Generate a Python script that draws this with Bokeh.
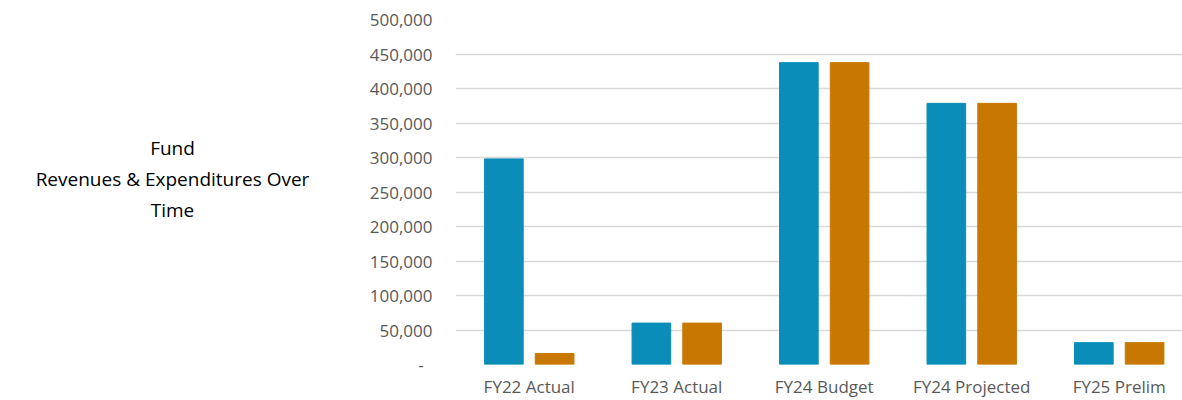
from bokeh.plotting import figure
from bokeh.models import ColumnDataSource, Range1d, FixedTicker, NumeralTickFormatter
from bokeh.layouts import row
from bokeh.transform import dodge
from bokeh.core.properties import value
from bokeh.embed import file_html
from bokeh.resources import INLINE

categories = ["FY22 Actual", "FY23 Actual", "FY24 Budget", "FY24 Projected", "FY25 Prelim"]
revenues = [298000, 60000, 437500, 378500, 31700]
expenditures = [16000, 60000, 437500, 378500, 31700]
y_ticks = [0, 50000, 100000, 150000, 200000, 250000, 300000, 350000, 400000, 450000, 500000]
title_text = "Fund\nRevenues & Expenditures Over\nTime"

FONT = "Open Sans"
LABEL_COLOR = "#595959"
BLUE = "#0B8DB9"
ORANGE = "#C87801"

LEFT_W = 344
TOTAL_W = 1182
H = 400

# ---- left panel holding the chart title ----
t = figure(width=LEFT_W, height=H, output_backend="svg", toolbar_location=None,
           x_range=Range1d(0, LEFT_W), y_range=Range1d(0, H),
           min_border=0, x_axis_type=None, y_axis_type=None)
t.outline_line_color = None
t.xgrid.visible = False
t.ygrid.visible = False
t.text(x=[172], y=[215], text=[title_text], text_align="center", text_baseline="middle",
       text_font=value(FONT), text_font_size="19px", text_color="#000000",
       text_line_height=1.2)

# ---- chart ----
src = ColumnDataSource(dict(idx=list(range(len(categories))), cat=categories,
                            rev=revenues, exp=expenditures))

p = figure(width=TOTAL_W - LEFT_W, height=H, output_backend="svg", toolbar_location=None,
           x_range=Range1d(-0.5, 4.429), y_range=Range1d(0, 500000),
           min_border_left=455 - LEFT_W, min_border_right=0, min_border_top=19,
           min_border_bottom=34)
p.outline_line_color = None

bw = 0.262
p.vbar(x=dodge("idx", -0.172, range=p.x_range), top="rev", width=bw, source=src,
       fill_color=BLUE, line_color=BLUE)
p.vbar(x=dodge("idx", 0.172, range=p.x_range), top="exp", width=bw, source=src,
       fill_color=ORANGE, line_color=ORANGE)

p.xaxis.ticker = FixedTicker(ticks=list(range(len(categories))))
p.xaxis.major_label_overrides = {i: c for i, c in enumerate(categories)}
p.yaxis.ticker = FixedTicker(ticks=y_ticks)
p.yaxis.formatter = NumeralTickFormatter(format="0,0")
p.yaxis.major_label_overrides = {0: "-\u00a0\u00a0"}
for ax in (p.xaxis, p.yaxis):
    ax.axis_line_color = None
    ax.major_tick_line_color = None
    ax.minor_tick_line_color = None
    ax.major_tick_out = 0
    ax.major_tick_in = 0
    ax.major_label_text_font = FONT
    ax.major_label_text_font_size = "17px"
    ax.major_label_text_color = LABEL_COLOR
p.yaxis.major_label_standoff = 23
p.xaxis.major_label_standoff = 10

p.xgrid.grid_line_color = None
p.ygrid.grid_line_color = "#D9D9D9"
p.ygrid.grid_line_width = 1.3

layout = row(t, p, spacing=0)
open("out.html", "w").write(file_html(layout, INLINE))
